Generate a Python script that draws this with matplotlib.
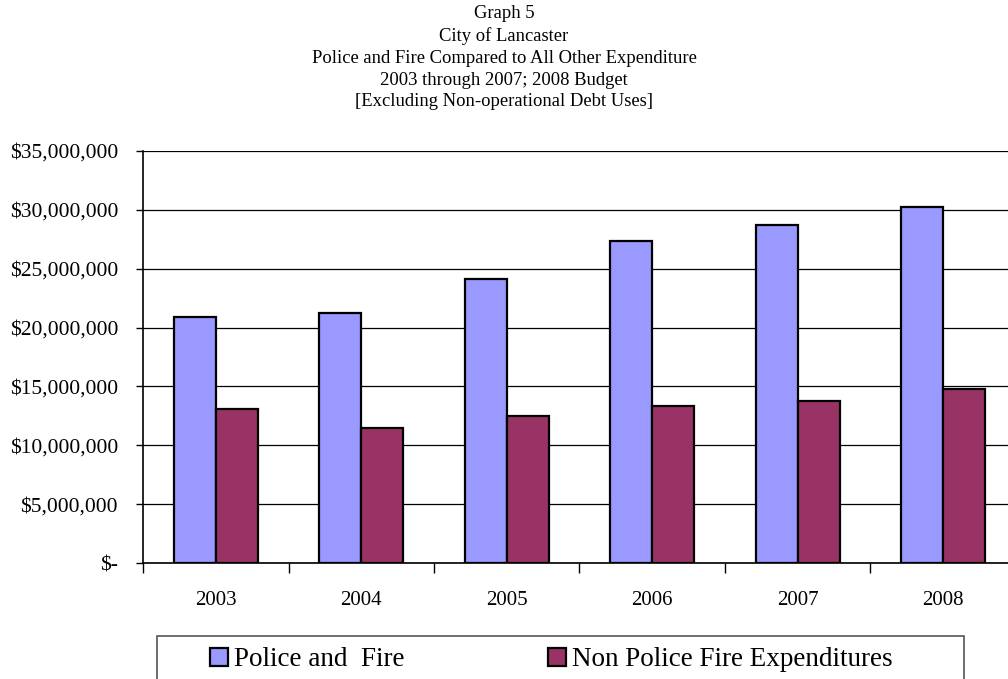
import numpy as np
import matplotlib
matplotlib.use("Agg")
import matplotlib.pyplot as plt
from matplotlib.ticker import FuncFormatter, FixedLocator
from matplotlib.patches import Rectangle

plt.rcParams['font.family'] = ['Liberation Serif', 'DejaVu Serif']

# --- data ---
years = ['2003', '2004', '2005', '2006', '2007', '2008']
police_fire = [20900000, 21250000, 24150000, 27350000, 28750000, 30250000]
non_police_fire = [13050000, 11450000, 12500000, 13350000, 13750000, 14800000]

title_lines = [
    'Graph 5',
    'City of Lancaster',
    'Police and Fire Compared to All Other Expenditure',
    '2003 through 2007; 2008 Budget',
    '[Excluding Non-operational Debt Uses]',
]

# --- figure ---
fig = plt.figure(figsize=(10.08, 6.79), dpi=100)
ax = fig.add_axes([0.1419, 0.1708, 0.866, 0.6068])

x = np.arange(len(years))
w = 0.29
b1 = ax.bar(x - w / 2, police_fire, w, color='#9999FF', edgecolor='black',
            linewidth=1.6, label='Police and  Fire', zorder=3)
b2 = ax.bar(x + w / 2, non_police_fire, w, color='#993366', edgecolor='black',
            linewidth=1.6, label='Non Police Fire Expenditures', zorder=3)

ax.set_xlim(-0.5, len(years) - 0.5)
ax.set_ylim(0, 35000000)
ax.set_yticks(np.arange(0, 35000001, 5000000))
ax.yaxis.grid(True, color='black', linewidth=0.9, zorder=0)
ax.set_axisbelow(True)


def money(v, pos):
    if v == 0:
        return '$-'
    return '${:,.0f}'.format(v)


ax.yaxis.set_major_formatter(FuncFormatter(money))
ax.tick_params(axis='y', length=5, width=1, pad=13, labelsize=15.5, direction='out')

# category labels centred, tick marks between categories
ax.set_xticks(x)
ax.set_xticklabels(years)
ax.tick_params(axis='x', which='major', length=0, pad=20, labelsize=15)
ax.xaxis.set_minor_locator(FixedLocator(np.arange(-0.5, len(years), 1.0)))
ax.tick_params(axis='x', which='minor', length=7, width=1, direction='out')

for s in ['top', 'right']:
    ax.spines[s].set_visible(False)
for s in ['left', 'bottom']:
    ax.spines[s].set_color('black')
    ax.spines[s].set_linewidth(1.2)

# title block
fig.text(0.5, 0.992, '\n'.join(title_lines), ha='center', va='top',
         fontsize=13.4, linespacing=1.36)

# legend with its own frame below the plot
fig.patches.append(Rectangle((157 / 1008, -0.05), (964 - 157) / 1008, (679 - 636) / 679 + 0.05,
                             transform=fig.transFigure, fill=False,
                             edgecolor='#555555', linewidth=1.2))
fig.legend(handles=[b1, b2], loc='center', bbox_to_anchor=(551.5 / 1008, 1 - 660 / 679),
           ncol=2, frameon=False, fontsize=19.5, handlelength=0.65, handleheight=0.65,
           handletextpad=0.25, columnspacing=5.29, borderpad=0)

fig.savefig('out.png', dpi=100)
